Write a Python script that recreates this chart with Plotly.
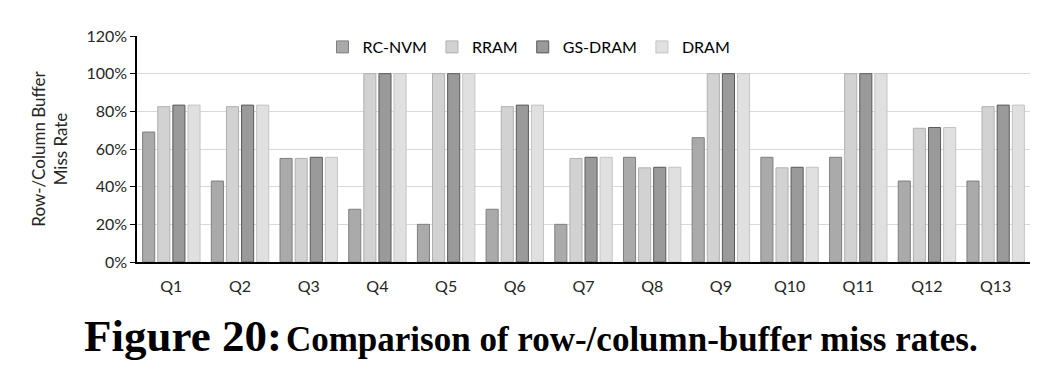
import plotly.graph_objects as go

categories = ["Q1","Q2","Q3","Q4","Q5","Q6","Q7","Q8","Q9","Q10","Q11","Q12","Q13"]
rc_nvm  = [0.69, 0.43, 0.55, 0.28, 0.20, 0.28, 0.20, 0.556, 0.66, 0.556, 0.556, 0.43, 0.43]
rram    = [0.825, 0.825, 0.55, 1.0, 1.0, 0.825, 0.55, 0.50, 1.0, 0.50, 1.0, 0.71, 0.825]
gs_dram = [0.833, 0.833, 0.556, 1.0, 1.0, 0.833, 0.556, 0.503, 1.0, 0.503, 1.0, 0.714, 0.833]
dram    = [0.833, 0.833, 0.556, 1.0, 1.0, 0.833, 0.556, 0.503, 1.0, 0.503, 1.0, 0.714, 0.833]
y_ticks = [0, 0.2, 0.4, 0.6, 0.8, 1.0, 1.2]

series = [
    ("RC-NVM", rc_nvm, "#aaaaaa", "#7f7f7f"),
    ("RRAM", rram, "#d2d2d2", "#b0b0b0"),
    ("GS-DRAM", gs_dram, "#9a9a9a", "#5a5a5a"),
    ("DRAM", dram, "#e0e0e0", "#c4c4c4"),
]

fig = go.Figure()
for name, vals, fill, line in series:
    fig.add_trace(go.Bar(
        x=categories, y=vals, name=name,
        marker=dict(color=fill, line=dict(color=line, width=1)),
    ))

OFF = 8  # page body margin offset
W, H = 1055, 372
L = 137 - OFF
T = 36 - OFF
R = W - (1030 - OFF)
B = H - (262 - OFF)
pw, ph = W - L - R, H - T - B

def px_x(sx):
    return (sx - OFF - L) / pw

def px_y(sy):
    return (H - B - (sy - OFF)) / ph

fig.update_layout(
    width=W, height=H,
    margin=dict(l=L, r=R, t=T, b=B, autoexpand=False),
    paper_bgcolor="white", plot_bgcolor="white",
    barmode="group", bargap=0.12, bargroupgap=0.2,
    font=dict(family="Lato, Open Sans, sans-serif", color="#262626", size=16),
    showlegend=True,
    legend=dict(orientation="h", x=px_x(529), xanchor="center", y=px_y(47), yanchor="middle",
                bgcolor="rgba(255,255,255,0)", font=dict(size=16, color="#000000"),
                itemwidth=30, traceorder="normal", tracegroupgap=0),
    xaxis=dict(showline=True, linecolor="black", linewidth=1.5, ticks="", automargin=False,
               ticklabelstandoff=9,
               tickfont=dict(size=16, color="#262626"), showgrid=False),
    yaxis=dict(range=[0, 1.2], tickvals=y_ticks, tickformat=".0%", automargin=False,
               showline=True, linecolor="black", linewidth=1.5,
               ticks="outside", ticklen=5, tickcolor="black",
               showgrid=True, gridcolor="#d9d9d9", gridwidth=1,
               zeroline=False, tickfont=dict(size=16, color="#262626"),
               title=dict(text="Row-/Column Buffer<br>Miss Rate", font=dict(size=17, color="#262626"), standoff=14)),
    annotations=[dict(
        text="<b><span style='font-size:45px'>Figure 20:</span> <span style='font-size:35px'>Comparison of row-/column-buffer miss rates.</span></b>",
        x=px_x(531), xref="paper", y=px_y(336), yref="paper",
        xanchor="center", yanchor="middle", showarrow=False,
        font=dict(family="Liberation Serif, Times New Roman, serif", color="black"),
    )],
)
fig.write_html("out.html")
